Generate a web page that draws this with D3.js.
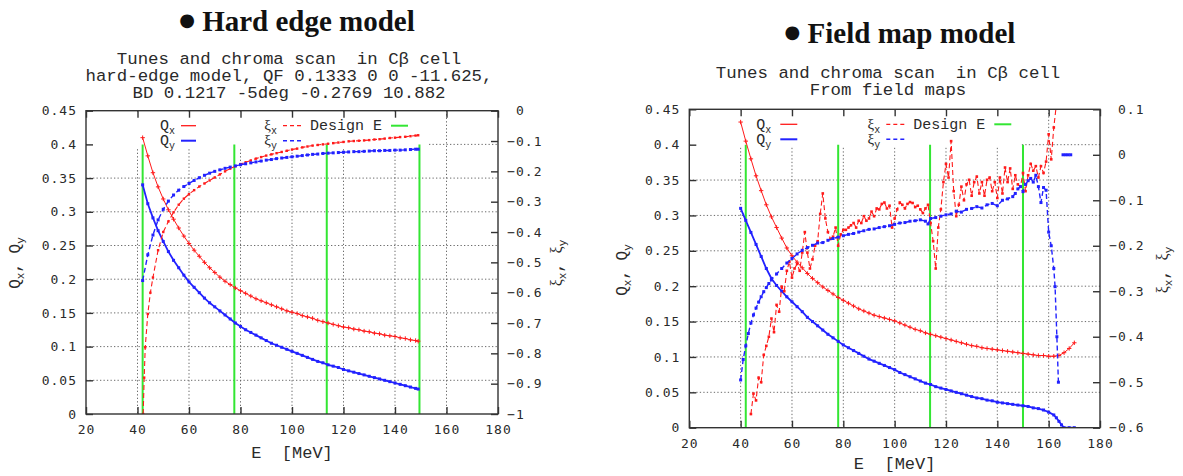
<!DOCTYPE html>
<html><head><meta charset="utf-8">
<script src="https://cdn.jsdelivr.net/npm/d3@7"></script>
<style>
body{margin:0;background:#fff;}
svg{display:block;}
</style></head><body>
<svg id="c" width="1183" height="476"></svg>
<script>
// ---------- axis ticks ----------
const xTicks = [20, 40, 60, 80, 100, 120, 140, 160, 180];
const qTicks = [0, 0.05, 0.1, 0.15, 0.2, 0.25, 0.3, 0.35, 0.4, 0.45];
const heXiTicks = [0, -0.1, -0.2, -0.3, -0.4, -0.5, -0.6, -0.7, -0.8, -0.9, -1];
const fmXiTicks = [0.1, 0, -0.1, -0.2, -0.3, -0.4, -0.5, -0.6];

// ---------- design energies ----------
const heDesignE = [42, 77.6, 113.5, 149.5];
const fmDesignE = [42, 78, 113.8, 150];

// ---------- hard edge model ----------
const heE = [42,44,46,48,50,52,54,56,58,60,62,64,66,68,70,72,74,76,78,80,82,84,86,88,90,92,94,96,98,100,102,104,106,108,110,112,114,116,118,120,122,124,126,128,130,132,134,136,138,140,142,144,146,148,149];
const heQx = [0.410,0.383,0.358,0.337,0.319,0.303,0.289,0.276,0.264,0.253,0.243,0.234,0.225,0.217,0.210,0.203,0.197,0.192,0.187,0.183,0.179,0.175,0.171,0.168,0.165,0.162,0.159,0.156,0.153,0.151,0.149,0.146,0.144,0.142,0.139,0.137,0.135,0.133,0.131,0.129,0.128,0.126,0.125,0.123,0.122,0.120,0.119,0.117,0.116,0.115,0.113,0.112,0.110,0.109,0.108];
const heQy = [0.340,0.312,0.291,0.272,0.256,0.241,0.228,0.217,0.206,0.196,0.188,0.180,0.172,0.165,0.159,0.153,0.147,0.141,0.135,0.130,0.125,0.121,0.117,0.113,0.109,0.105,0.102,0.099,0.096,0.093,0.090,0.087,0.084,0.081,0.078,0.076,0.073,0.071,0.069,0.066,0.064,0.062,0.060,0.058,0.056,0.054,0.052,0.050,0.048,0.046,0.044,0.042,0.040,0.038,0.037];
const heXiy = [-0.560,-0.475,-0.410,-0.360,-0.325,-0.298,-0.278,-0.262,-0.250,-0.240,-0.230,-0.221,-0.213,-0.206,-0.200,-0.195,-0.190,-0.186,-0.182,-0.178,-0.175,-0.172,-0.169,-0.166,-0.163,-0.161,-0.158,-0.156,-0.154,-0.152,-0.150,-0.148,-0.146,-0.144,-0.143,-0.141,-0.140,-0.139,-0.138,-0.137,-0.136,-0.135,-0.135,-0.134,-0.133,-0.132,-0.132,-0.131,-0.131,-0.130,-0.130,-0.129,-0.128,-0.127,-0.127];
const heXixE = [42.2,42.6,43,44,45,46,48,50,52,54,56,58,60,62,64,66,68,70,72,74,76,78,80,82,84,86,88,90,92,94,96,98,100,102,104,106,108,110,112,114,116,118,120,122,124,126,128,130,132,134,136,138,140,142,144,146,148,149];
const heXix = [-1.0,-0.88,-0.78,-0.67,-0.60,-0.55,-0.46,-0.40,-0.365,-0.335,-0.31,-0.29,-0.275,-0.262,-0.250,-0.240,-0.230,-0.220,-0.210,-0.200,-0.191,-0.183,-0.176,-0.170,-0.164,-0.158,-0.153,-0.148,-0.144,-0.140,-0.136,-0.132,-0.128,-0.125,-0.121,-0.118,-0.115,-0.113,-0.111,-0.109,-0.107,-0.105,-0.103,-0.101,-0.100,-0.099,-0.098,-0.097,-0.095,-0.094,-0.092,-0.090,-0.089,-0.087,-0.086,-0.084,-0.082,-0.081];

// ---------- field map model ----------
const fmQxE = [40,42,44,46,48,50,52,54,56,58,60,62,64,66,68,70,72,74,76,78,80,82,84,86,88,90,92,94,96,98,100,102,104,106,108,110,112,114,116,118,120,122,124,126,128,130,132,134,136,138,140,142,144,146,148,150,152,154,156,158,160,162,164,166,168,170];
const fmQx = [0.432,0.405,0.380,0.356,0.335,0.315,0.298,0.283,0.268,0.254,0.243,0.234,0.226,0.218,0.211,0.205,0.199,0.194,0.189,0.184,0.180,0.176,0.172,0.168,0.165,0.162,0.159,0.157,0.155,0.153,0.151,0.148,0.145,0.142,0.139,0.137,0.134,0.132,0.130,0.128,0.126,0.124,0.122,0.120,0.118,0.116,0.115,0.113,0.112,0.111,0.110,0.109,0.108,0.107,0.106,0.105,0.104,0.103,0.102,0.102,0.101,0.101,0.102,0.106,0.112,0.120];
const fmQyE = [40,42,44,46,48,50,52,54,56,58,60,62,64,66,68,70,72,74,76,78,80,82,84,86,88,90,92,94,96,98,100,102,104,106,108,110,112,114,116,118,120,122,124,126,128,130,132,134,136,138,140,142,144,146,148,150,152,154,156,158,160,162,163,164,165,166,168,170];
const fmQy = [0.310,0.293,0.276,0.259,0.242,0.225,0.211,0.201,0.193,0.185,0.178,0.171,0.164,0.156,0.150,0.144,0.138,0.132,0.127,0.122,0.117,0.113,0.109,0.105,0.101,0.097,0.094,0.091,0.088,0.085,0.082,0.078,0.075,0.072,0.069,0.066,0.063,0.061,0.058,0.056,0.054,0.052,0.050,0.048,0.046,0.044,0.042,0.041,0.039,0.038,0.036,0.035,0.034,0.033,0.032,0.031,0.030,0.028,0.027,0.025,0.022,0.018,0.014,0.009,0.004,0,0,0];
const fmXixE = [44,45,46,47,48,49,50,51,52,53,54,55,56,57,58,59,60,61,62,63,64,65,66,67,68,69,70,71,72,73,74,75,76,77,78,79,80,81,82,83,84,85,86,87,88,89,90,91,92,93,94,95,96,97,98,99,100,101,102,103,104,105,106,107,108,109,110,111,112,113,114,115,116,117,118,119,120,121,122,123,124,125,126,127,128,129,130,131,132,133,134,135,136,137,138,139,140,141,142,143,144,145,146,147,148,149,150,151,152,153,154,155,156,157,158,159,160,161,162,163];
const fmXix = [-0.570,-0.525,-0.540,-0.490,-0.500,-0.440,-0.420,-0.400,-0.360,-0.390,-0.330,-0.345,-0.290,-0.300,-0.255,-0.235,-0.270,-0.250,-0.240,-0.255,-0.215,-0.170,-0.215,-0.250,-0.230,-0.200,-0.190,-0.130,-0.085,-0.140,-0.170,-0.185,-0.180,-0.160,-0.200,-0.175,-0.165,-0.165,-0.160,-0.155,-0.150,-0.160,-0.145,-0.150,-0.135,-0.145,-0.140,-0.125,-0.135,-0.118,-0.120,-0.108,-0.105,-0.118,-0.112,-0.160,-0.140,-0.120,-0.105,-0.110,-0.118,-0.108,-0.104,-0.106,-0.115,-0.112,-0.120,-0.128,-0.118,-0.110,-0.150,-0.190,-0.250,-0.160,-0.120,-0.060,-0.020,-0.050,0.030,-0.080,-0.135,-0.110,-0.070,-0.100,-0.065,-0.055,-0.090,-0.060,-0.048,-0.085,-0.060,-0.090,-0.055,-0.050,-0.080,-0.060,-0.095,-0.050,-0.085,-0.028,-0.060,-0.030,-0.075,-0.045,-0.065,-0.070,-0.040,-0.080,-0.045,-0.020,-0.035,-0.025,-0.050,-0.025,-0.040,-0.015,0.045,-0.010,0.060,0.110];
const fmXiyE = [40,41,42,43,44,45,46,47,48,49,50,51,52,54,56,58,60,62,64,66,68,70,72,74,76,78,80,82,84,86,88,90,92,94,96,98,100,102,104,106,108,110,112,113,114,116,118,120,122,124,126,128,130,132,134,136,138,140,142,144,146,147,148,149,150,151,152,153,154,155,156,157,158,159,160,161,162,162.5,163.2,163.8];
const fmXiy = [-0.495,-0.450,-0.420,-0.393,-0.370,-0.352,-0.337,-0.324,-0.312,-0.301,-0.292,-0.283,-0.275,-0.262,-0.250,-0.238,-0.228,-0.218,-0.210,-0.204,-0.199,-0.194,-0.193,-0.188,-0.184,-0.181,-0.178,-0.175,-0.173,-0.170,-0.167,-0.164,-0.163,-0.160,-0.158,-0.156,-0.153,-0.150,-0.149,-0.146,-0.145,-0.143,-0.146,-0.152,-0.140,-0.138,-0.135,-0.132,-0.130,-0.124,-0.126,-0.120,-0.118,-0.114,-0.117,-0.110,-0.107,-0.112,-0.100,-0.097,-0.092,-0.085,-0.075,-0.070,-0.081,-0.065,-0.057,-0.052,-0.060,-0.045,-0.070,-0.105,-0.072,-0.078,-0.170,-0.200,-0.250,-0.290,-0.400,-0.500];
const fmXiyTailE = [165.6, 166.6, 167.6, 168.6];
const fmXiyTail = [0, 0, 0, 0];

// ---------- texts ----------
const heHeading = "Hard edge model";
const fmHeading = "Field map model";
const heTitle = ["Tunes and chroma scan  in C\u03b2 cell", "hard-edge model, QF 0.1333 0 0 -11.625,", "BD 0.1217 -5deg -0.2769 10.882"];
const fmTitle = ["Tunes and chroma scan  in C\u03b2 cell", "From field maps"];

// ---------- style ----------
const RED = "#ff1a1a", BLUE = "#2222ff", GREEN = "#33e633", INK = "#2a2a2a";
const MONO = "'Liberation Mono','Courier New',monospace";
const TICKF = "'DejaVu Sans Mono',monospace";
const SERIF = "'Liberation Serif','Times New Roman',serif";

const svg = d3.select("#c");
const defs = svg.append("defs");

function zip(E, V) { return E.map((e, i) => [e, V[i]]); }

function subText(sel, parts, subSize) {
  parts.forEach(p => {
    const t = sel.append("tspan").text(p[0]);
    if (p[2]) t.attr("font-family", p[2]);
    if (p[1]) t.attr("font-size", subSize).attr("dy", 4);
    else if (p[3]) t.attr("dy", -4);
  });
}

function panel(cfg) {
  const { x0, x1, y0, y1 } = cfg;
  const x = d3.scaleLinear().domain([20, 180]).range([x0, x1]);
  const yQ = d3.scaleLinear().domain([0, 0.45]).range([y1, y0]);
  const yX = d3.scaleLinear().domain(cfg.xiDomain).range([y1, y0]);
  const g = svg.append("g");
  const clipId = "clip-" + cfg.id;
  defs.append("clipPath").attr("id", clipId).append("rect")
    .attr("x", x0).attr("y", y0).attr("width", x1 - x0).attr("height", y1 - y0);

  // grid
  const grid = g.append("g").attr("stroke", "#5a5a5a").attr("stroke-width", 0.9)
    .attr("stroke-dasharray", "1.3,2.2");
  grid.selectAll(".gx").data(xTicks.slice(1, -1)).enter().append("line")
    .attr("x1", d => x(d)).attr("x2", d => x(d)).attr("y1", y0).attr("y2", y1);
  grid.selectAll(".gy").data(qTicks.slice(1, -1)).enter().append("line")
    .attr("y1", d => yQ(d)).attr("y2", d => yQ(d)).attr("x1", x0).attr("x2", x1);

  // opaque key area
  g.append("rect").attr("x", x0 + 1).attr("y", y0 + 1).attr("width", cfg.keyW).attr("height", 36).attr("fill", "#fff");

  // data
  const data = g.append("g").attr("clip-path", `url(#${clipId})`);
  data.selectAll(".de").data(cfg.designE).enter().append("line")
    .attr("x1", d => x(d)).attr("x2", d => x(d))
    .attr("y1", yQ(0)).attr("y2", yQ(0.4))
    .attr("stroke", GREEN).attr("stroke-width", 2);

  function series(pts, ys, color, width, dash, marker) {
    const line = d3.line().x(d => x(d[0])).y(d => ys(d[1]));
    data.append("path").datum(pts).attr("d", line).attr("fill", "none")
      .attr("stroke", color).attr("stroke-width", width)
      .attr("stroke-dasharray", dash ? "5,3" : null);
    const m = data.append("g");
    if (marker === "plus") {
      m.selectAll("path").data(pts).enter().append("path")
        .attr("d", d => { const cx = x(d[0]), cy = ys(d[1]); return `M${cx-2.2},${cy}H${cx+2.2}M${cx},${cy-2.2}V${cy+2.2}`; })
        .attr("stroke", color).attr("stroke-width", 1);
    } else {
      m.selectAll("rect").data(pts).enter().append("rect")
        .attr("x", d => x(d[0]) - marker / 2).attr("y", d => ys(d[1]) - marker / 2)
        .attr("width", marker).attr("height", marker).attr("fill", color);
    }
  }
  cfg.series.forEach(s => series(zip(s.E, s.V), s.axis === "q" ? yQ : yX, s.color, s.w, s.dash, s.marker));

  // frame
  g.append("rect").attr("x", x0).attr("y", y0).attr("width", x1 - x0).attr("height", y1 - y0)
    .attr("fill", "none").attr("stroke", "#333").attr("stroke-width", 1.4);

  const styleAxis = a => {
    a.select(".domain").remove();
    a.selectAll("line").attr("stroke", "#333").attr("stroke-width", 1.4);
    a.attr("font-family", TICKF).attr("font-size", 13);
    a.selectAll("text").attr("fill", INK).style("letter-spacing", "1px");
  };
  const fmtQ = v => String(+v.toFixed(2));
  g.append("g").attr("transform", `translate(${x0},0)`)
    .call(d3.axisLeft(yQ).tickValues(qTicks).tickSizeInner(-7).tickSizeOuter(0).tickPadding(9).tickFormat(fmtQ))
    .call(styleAxis);
  g.append("g").attr("transform", `translate(0,${y1})`)
    .call(d3.axisBottom(x).tickValues(xTicks).tickSizeInner(-7).tickSizeOuter(0).tickPadding(11).tickFormat(d => String(d)))
    .call(styleAxis);
  g.append("g").attr("transform", `translate(0,${y0})`)
    .call(d3.axisTop(x).tickValues(xTicks).tickSizeInner(-7).tickSizeOuter(0).tickFormat(""))
    .call(styleAxis);
  const rAx = g.append("g").attr("transform", `translate(${x1},0)`)
    .call(d3.axisRight(yX).tickValues(cfg.xiTicks).tickSizeInner(-7).tickSizeOuter(0).tickPadding(18)
      .tickFormat(v => String(+Math.abs(v).toFixed(2))))
    .call(styleAxis);
  rAx.selectAll(".tick").filter(d => d < 0).append("text")
    .attr("x", 17).attr("dy", "0.32em").attr("text-anchor", "end").attr("fill", INK).text("\u2212");

  // key
  const key = g.append("g").attr("font-family", MONO).attr("font-size", 15).attr("fill", INK);
  const r1 = y0 + 15, r2 = y0 + 30;
  const entries = [
    { t: [["Q"], ["x", 1]], end: cfg.qTextEnd, s: cfg.qSample, y: r1, c: RED, w: 1.3, dash: false },
    { t: [["Q"], ["y", 1]], end: cfg.qTextEnd, s: cfg.qSample, y: r2, c: BLUE, w: 2, dash: false },
    { t: [["\u03be", 0, SERIF], ["x", 1]], end: 191, s: [197, 216], y: r1, c: RED, w: 1.3, dash: true },
    { t: [["\u03be", 0, SERIF], ["y", 1]], end: 191, s: [197, 216], y: r2, c: BLUE, w: 1.6, dash: true },
    { t: [["Design E"]], end: 296, s: [305, 322], y: r1, c: GREEN, w: 2, dash: false }
  ];
  entries.forEach(e => {
    const t = key.append("text").attr("x", x0 + e.end).attr("y", e.y + 4.5).attr("text-anchor", "end")
      .style("white-space", "pre");
    subText(t, e.t, 10);
    key.append("line").attr("x1", x0 + e.s[0]).attr("x2", x0 + e.s[1]).attr("y1", e.y).attr("y2", e.y)
      .attr("stroke", e.c).attr("stroke-width", e.w).attr("stroke-dasharray", e.dash ? "4,3" : null);
  });

  // axis labels
  const lab = g.append("g").attr("font-family", MONO).attr("font-size", 16).attr("fill", INK);
  const lq = lab.append("text").attr("transform", `translate(${cfg.ylL[0]},${cfg.ylL[1]}) rotate(-90)`)
    .attr("text-anchor", "middle").attr("dy", "0.32em").style("white-space", "pre");
  subText(lq, [["Q"], ["x", 1], [", Q", 0, null, 1], ["y", 1]], 11);
  const lx = lab.append("text").attr("transform", `translate(${cfg.ylR[0]},${cfg.ylR[1]}) rotate(-90)`)
    .attr("text-anchor", "middle").attr("dy", "0.32em").style("white-space", "pre");
  subText(lx, [["\u03be", 0, SERIF], ["x", 1], [", ", 0, null, 1], ["\u03be", 0, SERIF], ["y", 1]], 11);
  lab.append("text").attr("x", (x0 + x1) / 2).attr("y", y1 + cfg.xlabOff).attr("text-anchor", "middle")
    .attr("font-size", 17).style("white-space", "pre").text("E  [MeV]");

  // heading with big raised bullet
  const h = svg.append("text").attr("x", cfg.head[0]).attr("y", cfg.head[1]).attr("text-anchor", "middle")
    .attr("font-family", SERIF).attr("font-weight", "bold").attr("font-size", 29).attr("fill", "#111")
    .style("white-space", "pre");
  h.append("tspan").attr("font-family", "'DejaVu Sans',sans-serif").attr("font-size", 18).attr("dy", -5).text("\u25cf");
  h.append("tspan").attr("dy", 5).text(" " + cfg.heading);

  svg.append("g").attr("font-family", MONO).attr("font-size", 17.4).attr("fill", INK)
    .selectAll("text").data(cfg.title).enter().append("text")
    .attr("x", cfg.titleX).attr("y", (d, i) => cfg.titleY + i * 17).attr("text-anchor", "middle")
    .style("white-space", "pre").text(d => d);
}

panel({
  id: "he", x0: 86, x1: 498, y0: 110.7, y1: 414,
  xiDomain: [-1, 0], xiTicks: heXiTicks, designE: heDesignE,
  keyW: 340, qTextEnd: 89, qSample: [95, 110],
  ylL: [15, 263], ylR: [557, 263], xlabOff: 44,
  head: [297, 31], heading: heHeading, title: heTitle, titleX: 289, titleY: 64,
  series: [
    { E: heE, V: heQx, axis: "q", color: RED, w: 1, dash: false, marker: "plus" },
    { E: heE, V: heQy, axis: "q", color: BLUE, w: 1.8, dash: false, marker: 3 },
    { E: heXixE, V: heXix, axis: "xi", color: RED, w: 1.1, dash: true, marker: 2.4 },
    { E: heE, V: heXiy, axis: "xi", color: BLUE, w: 1.4, dash: true, marker: 3 }
  ]
});

panel({
  id: "fm", x0: 689.3, x1: 1100, y0: 109.3, y1: 427.7,
  xiDomain: [-0.6, 0.1], xiTicks: fmXiTicks, designE: fmDesignE,
  keyW: 331, qTextEnd: 82, qSample: [91, 108],
  ylL: [622, 270], ylR: [1163, 270], xlabOff: 41,
  head: [900, 43], heading: fmHeading, title: fmTitle, titleX: 888, titleY: 78,
  series: [
    { E: fmQxE, V: fmQx, axis: "q", color: RED, w: 1, dash: false, marker: "plus" },
    { E: fmQyE, V: fmQy, axis: "q", color: BLUE, w: 1.8, dash: false, marker: 3 },
    { E: fmXixE, V: fmXix, axis: "xi", color: RED, w: 1.1, dash: true, marker: 2.6 },
    { E: fmXiyE, V: fmXiy, axis: "xi", color: BLUE, w: 1.4, dash: true, marker: 3 },
    { E: fmXiyTailE, V: fmXiyTail, axis: "xi", color: BLUE, w: 1.4, dash: true, marker: 3 }
  ]
});
</script>
</body></html>
